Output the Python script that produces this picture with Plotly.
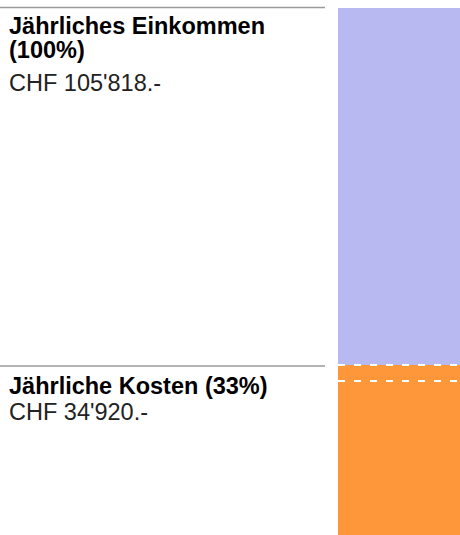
import plotly.graph_objects as go

W, H = 460, 535

# ---- data ----
categories = ["Einkommen"]
income = [105818]
costs = [34920]
income_label = ["Jährliches Einkommen", "(100%)"]
costs_label = ["Jährliche Kosten (33%)"]
income_text = "CHF 105'818.-"
costs_text = "CHF 34'920.-"
dash_levels = [34920, 31750]

LAV = "#b9b9f2"
ORA = "#fe9739"

fig = go.Figure()
fig.add_trace(go.Bar(x=categories, y=income, marker=dict(color=LAV, line=dict(width=0)),
                     width=1, hoverinfo="skip"))
fig.add_trace(go.Bar(x=categories, y=costs, marker=dict(color=ORA, line=dict(width=0)),
                     width=1, hoverinfo="skip"))

def py(px):
    return 1 - px / H

def pxx(px):
    return px / W

FS = 23.5
font_b = dict(family="Liberation Sans, Arial, sans-serif", size=FS, color="#000000", weight="bold")
font_r = dict(family="Liberation Sans, Arial, sans-serif", size=FS, color="#222222")

ann = []
def line(text, x, ytop, font):
    ann.append(dict(text=text, x=pxx(x), y=py(ytop), xref="paper", yref="paper",
                    xanchor="left", yanchor="top", showarrow=False, font=font, align="left"))

line(income_label[0], 7, 11.2, font_b)
line(income_label[1], 7, 35.3, font_b)
line(income_text, 7, 67.7, font_r)
line(costs_label[0], 7, 371, font_b)
line(costs_text, 7, 397.3, font_r)

shapes = []
# grey rules above the text blocks
for ypx in [7.5, 366]:
    shapes.append(dict(type="line", xref="paper", yref="paper", x0=0, x1=pxx(325),
                       y0=py(ypx), y1=py(ypx), line=dict(color="#9a9a9a", width=1.3)))
# white dashed lines on the bar
for v in dash_levels:
    shapes.append(dict(type="line", xref="x domain", yref="y", x0=0, x1=1, y0=v, y1=v,
                       line=dict(color="white", width=2, dash="7px,9px")))

lo, hi = 1192, 107406
fig.update_layout(
    width=W, height=H,
    margin=dict(l=0, r=0, t=0, b=0),
    barmode="overlay",
    bargap=0,
    showlegend=False,
    plot_bgcolor="white", paper_bgcolor="white",
    xaxis=dict(domain=[338 / W, 1], visible=False, range=[-0.5, 0.5], fixedrange=True),
    yaxis=dict(range=[lo, hi], visible=False, fixedrange=True),
    annotations=ann,
    shapes=shapes,
)

fig.write_html(
    "out.html",
    config={"displayModeBar": False},
    post_script="document.body.style.margin='0';document.body.style.overflow='hidden';",
)
